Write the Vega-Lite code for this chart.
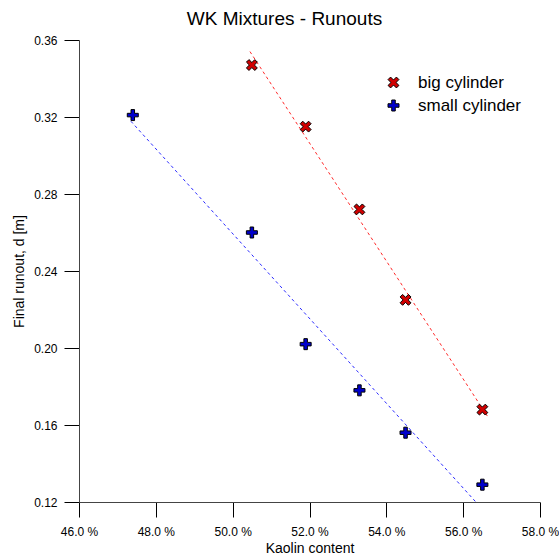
{
  "$schema": "https://vega.github.io/schema/vega-lite/v6.json",
  "width": 461,
  "height": 462,
  "autosize": {"type": "none"},
  "padding": {"left": 79, "top": 40, "right": 19, "bottom": 52},
  "background": "white",
  "config": {"view": {"stroke": null}, "font": "Liberation Sans"},
  "title": {"text": "WK Mixtures - Runouts", "fontSize": 19, "fontWeight": "normal", "font": "Liberation Sans", "color": "black", "dx": -25, "offset": 5, "anchor": "middle"},
  "datasets": {
    "pts": [
      {"series": "big cylinder", "kaolin": 50.5, "runout": 0.347},
      {"series": "big cylinder", "kaolin": 51.9, "runout": 0.315},
      {"series": "big cylinder", "kaolin": 53.3, "runout": 0.272},
      {"series": "big cylinder", "kaolin": 54.5, "runout": 0.225},
      {"series": "big cylinder", "kaolin": 56.5, "runout": 0.168},
      {"series": "small cylinder", "kaolin": 47.4, "runout": 0.321},
      {"series": "small cylinder", "kaolin": 50.5, "runout": 0.260},
      {"series": "small cylinder", "kaolin": 51.9, "runout": 0.202},
      {"series": "small cylinder", "kaolin": 53.3, "runout": 0.178},
      {"series": "small cylinder", "kaolin": 54.5, "runout": 0.156},
      {"series": "small cylinder", "kaolin": 56.5, "runout": 0.129}
    ],
    "trend": [
      {"series": "big cylinder", "kaolin": 50.45, "runout": 0.354},
      {"series": "big cylinder", "kaolin": 56.65, "runout": 0.164},
      {"series": "small cylinder", "kaolin": 47.35, "runout": 0.3178},
      {"series": "small cylinder", "kaolin": 56.33, "runout": 0.12}
    ]
  },
  "layer": [
    {
      "data": {"name": "trend"},
      "transform": [{"filter": "datum.series === 'big cylinder'"}],
      "mark": {"type": "line", "color": "#ff2a2a", "strokeDash": [3, 3], "strokeWidth": 1},
      "encoding": {
        "x": {
          "field": "kaolin", "type": "quantitative",
          "scale": {"domain": [46, 58], "nice": false, "zero": false},
          "axis": {
            "values": [46, 47, 48, 49, 50, 51, 52, 53, 54, 55, 56, 57, 58],
            "title": "Kaolin content",
            "labelExpr": "datum.value % 2 === 0 ? format(datum.value, '.1f') + ' %' : ''",
            "tickSize": {"condition": {"test": "datum.value % 2 === 0", "value": 15}, "value": 6},
            "grid": false, "domainColor": "#444", "tickColor": "black",
            "labelFontSize": 12, "labelColor": "black", "labelPadding": 9,
            "labelFlush": false, "labelOverlap": false,
            "titleFontSize": 14, "titleFontWeight": "normal", "titleColor": "black", "titlePadding": 4
          }
        },
        "y": {
          "field": "runout", "type": "quantitative",
          "scale": {"domain": [0.12, 0.36], "nice": false, "zero": false},
          "axis": {
            "values": [0.12, 0.14, 0.16, 0.18, 0.2, 0.22, 0.24, 0.26, 0.28, 0.3, 0.32, 0.34, 0.36],
            "title": "Final runout, d [m]",
            "labelExpr": "round(datum.value * 100) % 4 === 0 ? format(datum.value, '.2f') : ''",
            "tickSize": {"condition": {"test": "round(datum.value * 100) % 4 === 0", "value": 15}, "value": 6},
            "grid": false, "domainColor": "#444", "tickColor": "black",
            "labelFontSize": 12, "labelColor": "black", "labelPadding": 7,
            "labelFlush": false, "labelOverlap": false,
            "titleFontSize": 14, "titleFontWeight": "normal", "titleColor": "black", "titlePadding": 7
          }
        }
      }
    },
    {
      "data": {"name": "trend"},
      "transform": [{"filter": "datum.series === 'small cylinder'"}],
      "mark": {"type": "line", "color": "#2a2aff", "strokeDash": [3, 3], "strokeWidth": 1},
      "encoding": {
        "x": {"field": "kaolin", "type": "quantitative"},
        "y": {"field": "runout", "type": "quantitative"}
      }
    },
    {
      "data": {"name": "pts"},
      "mark": {"type": "point", "filled": true, "size": 121, "stroke": "black", "strokeWidth": 1, "opacity": 1},
      "encoding": {
        "x": {"field": "kaolin", "type": "quantitative"},
        "y": {"field": "runout", "type": "quantitative"},
        "color": {
          "field": "series", "type": "nominal",
          "scale": {"domain": ["big cylinder", "small cylinder"], "range": ["#d00000", "#0000cc"]},
          "legend": {"title": null, "orient": "none", "legendX": 306, "legendY": 34, "labelFontSize": 17, "labelColor": "black", "symbolSize": 121, "symbolStrokeColor": "black", "symbolStrokeWidth": 1, "rowPadding": 5, "padding": 0, "labelOffset": 16}
        },
        "shape": {
          "field": "series", "type": "nominal",
          "scale": {"domain": ["big cylinder", "small cylinder"], "range": ["M-0.53,-0.99L0,-0.46L0.53,-0.99L0.99,-0.53L0.46,0L0.99,0.53L0.53,0.99L0,0.46L-0.53,0.99L-0.99,0.53L-0.46,0L-0.99,-0.53Z", "M-1,-0.32H-0.32V-1H0.32V-0.32H1V0.32H0.32V1H-0.32V0.32H-1Z"]},
          "legend": {"title": null, "orient": "none", "legendX": 306, "legendY": 34, "labelFontSize": 17, "labelColor": "black", "symbolSize": 121, "symbolStrokeColor": "black", "symbolStrokeWidth": 1, "rowPadding": 5, "padding": 0, "labelOffset": 16}
        }
      }
    }
  ]
}
